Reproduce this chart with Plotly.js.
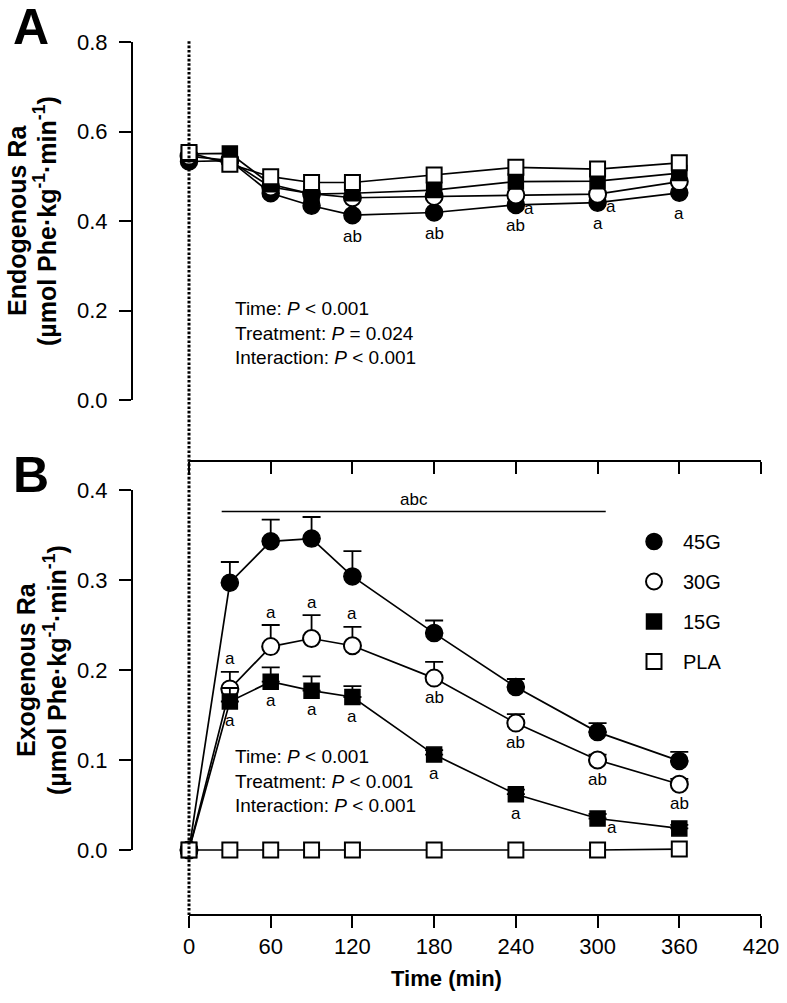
<!DOCTYPE html>
<html>
<head>
<meta charset="utf-8">
<script src="https://cdn.plot.ly/plotly-3.0.1.min.js"></script>
<style>html,body{margin:0;padding:0;background:#fff;}#chart{width:787px;height:1003px;}</style>
</head>
<body>
<div id="chart"></div>
<script>
// ---------- DATA ----------
const time = [0, 30, 60, 90, 120, 180, 240, 300, 360];
const groups = ['45G', '30G', '15G', 'PLA'];

// Panel A: Endogenous Ra
const A_45G = [0.533, 0.535, 0.462, 0.434, 0.413, 0.419, 0.436, 0.441, 0.463];
const A_30G = [0.545, 0.535, 0.476, 0.461, 0.452, 0.455, 0.458, 0.460, 0.488];
const A_15G = [0.550, 0.551, 0.482, 0.460, 0.462, 0.469, 0.488, 0.489, 0.507];
const A_PLA = [0.553, 0.527, 0.499, 0.486, 0.486, 0.503, 0.520, 0.516, 0.530];
const A_sig45_below = ['', '', '', '', 'ab', 'ab', 'ab', 'a', 'a'];
const A_sig45_side  = ['', '', '', '', '', '', 'a', 'a', ''];

// Panel B: Exogenous Ra (mean and upper SEM)
const B_45G     = [0, 0.297, 0.343, 0.346, 0.304, 0.241, 0.181, 0.131, 0.099];
const B_45G_err = [0, 0.023, 0.024, 0.024, 0.028, 0.014, 0.009, 0.010, 0.010];
const B_30G     = [0, 0.179, 0.226, 0.235, 0.227, 0.191, 0.141, 0.100, 0.073];
const B_30G_err = [0, 0.019, 0.024, 0.026, 0.021, 0.018, 0.010, 0.006, 0.006];
const B_15G     = [0, 0.165, 0.187, 0.177, 0.170, 0.106, 0.062, 0.035, 0.024];
const B_15G_err = [0, 0.015, 0.016, 0.016, 0.012, 0.005, 0.005, 0.005, 0.004];
const B_PLA     = [0, 0, 0, 0, 0, 0, 0, 0, 0.001];
const B_sig30_above = ['', 'a', 'a', 'a', 'a', '', '', '', ''];
const B_sig30_below = ['', '', '', '', '', 'ab', 'ab', 'ab', 'ab'];
const B_sig15_below = ['', 'a', 'a', 'a', 'a', 'a', 'a', '', ''];
const B_sig15_side  = ['', '', '', '', '', '', '', 'a', ''];
const B_abc_text = 'abc';
const B_abc_span = [24, 306];
const B_abc_level = 0.376;

const xTicks = [0, 60, 120, 180, 240, 300, 360, 420];
const A_yTicks = [0.0, 0.2, 0.4, 0.6, 0.8];
const B_yTicks = [0.0, 0.1, 0.2, 0.3, 0.4];

const A_stats = ['Time: <i>P</i> &lt; 0.001', 'Treatment: <i>P</i> = 0.024', 'Interaction: <i>P</i> &lt; 0.001'];
const B_stats = ['Time: <i>P</i> &lt; 0.001', 'Treatment: <i>P</i> &lt; 0.001', 'Interaction: <i>P</i> &lt; 0.001'];

// ---------- LAYOUT GEOMETRY ----------
const W = 787, H = 1003;
const L = 132, R = 761, T = 42, B = 915;
const pw = R - L, ph = B - T;
const FONT = 'Liberation Sans, Arial, Helvetica, sans-serif';
const px2x = p => (p - L) / pw;
const px2y = p => (B - p) / ph;
const A_bottom = 461, B_top = 490;
const domA = [px2y(A_bottom), 1];
const domB = [0, px2y(B_top)];
const xPerPx = 420 / (R - 189);
const xRange = [-(189 - L) * xPerPx, 420];
const aPer = 0.8 / (400 - 42);
const yRangeA = [-(A_bottom - 400) * aPer, 0.8];
const bPer = 0.4 / (850 - 490);
const yRangeB = [-(B - 850) * bPer, 0.4];

const markerStyle = {
  '45G': {symbol: 'circle', size: 17, color: '#000', line: {color: '#000', width: 1.5}},
  '30G': {symbol: 'circle', size: 17, color: '#fff', line: {color: '#000', width: 2}},
  '15G': {symbol: 'square', size: 15, color: '#000', line: {color: '#000', width: 1.5}},
  'PLA': {symbol: 'square', size: 15, color: '#fff', line: {color: '#000', width: 2}}
};

const A_vals = {'45G': A_45G, '30G': A_30G, '15G': A_15G, 'PLA': A_PLA};
const B_vals = {'45G': B_45G, '30G': B_30G, '15G': B_15G, 'PLA': B_PLA};
const B_errs = {'45G': B_45G_err, '30G': B_30G_err, '15G': B_15G_err, 'PLA': null};

const traces = [];
groups.forEach(g => {
  traces.push({
    x: time, y: A_vals[g], xaxis: 'x', yaxis: 'y', type: 'scatter', mode: 'lines+markers',
    line: {color: '#000', width: 1.7}, marker: markerStyle[g], showlegend: false, hoverinfo: 'skip'
  });
});
groups.forEach(g => {
  const tr = {
    x: time, y: B_vals[g], xaxis: 'x2', yaxis: 'y2', type: 'scatter', mode: 'lines+markers',
    name: g, line: {color: '#000', width: 1.7}, marker: markerStyle[g], showlegend: false, hoverinfo: 'skip'
  };
  if (B_errs[g]) {
    tr.error_y = {type: 'data', symmetric: false, array: B_errs[g], arrayminus: time.map(() => 0),
      color: '#000', thickness: 1.8, width: 9};
  }
  traces.push(tr);
});
// legend entries (marker only, no data)
groups.forEach(g => {
  traces.push({x: [null], y: [null], xaxis: 'x2', yaxis: 'y2', type: 'scatter', mode: 'markers',
    name: g, legendgroup: g, marker: markerStyle[g], showlegend: true, hoverinfo: 'skip'});
});

// ---------- ANNOTATIONS ----------
const ann = [];
const letterFont = {family: FONT, size: 17, color: '#000'};
function addSig(labels, vals, errs, xa, ya, xs, ys) {
  labels.forEach((s, i) => {
    if (!s) return;
    ann.push({x: time[i], y: vals[i] + (errs ? errs[i] : 0), xref: xa, yref: ya, text: s, showarrow: false,
      font: letterFont, xshift: xs, yshift: ys, xanchor: 'center', yanchor: 'middle'});
  });
}
addSig(A_sig45_below, A_45G, null, 'x', 'y', 0, -21);
addSig(A_sig45_side, A_45G, null, 'x', 'y', 13, -4);
addSig(B_sig30_above, B_30G, B_30G_err, 'x2', 'y2', 0, 13);
addSig(B_sig30_below, B_30G, null, 'x2', 'y2', 0, -19);
addSig(B_sig15_below, B_15G, null, 'x2', 'y2', 0, -19);
addSig(B_sig15_side, B_15G, null, 'x2', 'y2', 14, -9);

ann.push({x: (B_abc_span[0] + B_abc_span[1]) / 2, y: B_abc_level, xref: 'x2', yref: 'y2', text: B_abc_text,
  showarrow: false, font: letterFont, yanchor: 'bottom', yshift: 1});

const statFont = {family: FONT, size: 19, color: '#000'};
ann.push({x: px2x(233), y: px2y(333), xref: 'paper', yref: 'paper', text: A_stats.join('<br>'), align: 'left',
  showarrow: false, font: statFont, xanchor: 'left', yanchor: 'middle'});
ann.push({x: px2x(233), y: px2y(781), xref: 'paper', yref: 'paper', text: B_stats.join('<br>'), align: 'left',
  showarrow: false, font: statFont, xanchor: 'left', yanchor: 'middle'});

// panel letters
ann.push({x: px2x(31), y: px2y(27), xref: 'paper', yref: 'paper', text: '<b>A</b>', showarrow: false,
  font: {family: FONT, size: 50, color: '#000'}, xanchor: 'center', yanchor: 'middle'});
ann.push({x: px2x(31), y: px2y(475), xref: 'paper', yref: 'paper', text: '<b>B</b>', showarrow: false,
  font: {family: FONT, size: 50, color: '#000'}, xanchor: 'center', yanchor: 'middle'});

// y-axis titles (each line placed separately)
const titleFont = {family: FONT, size: 25, color: '#000'};
const unit = '<b>(µmol Phe·kg<sup>-1</sup>·min<sup>-1</sup>)</b>';
function yTitle(line1, cx1, cx2, cy) {
  ann.push({x: px2x(cx1), y: px2y(cy), xref: 'paper', yref: 'paper', text: '<b>' + line1 + '</b>',
    textangle: -90, showarrow: false, font: titleFont, xanchor: 'center', yanchor: 'middle'});
  ann.push({x: px2x(cx2), y: px2y(cy), xref: 'paper', yref: 'paper', text: unit,
    textangle: -90, showarrow: false, font: titleFont, xanchor: 'center', yanchor: 'middle'});
}
yTitle('Endogenous Ra', 17, 45, 221);
yTitle('Exogenous Ra', 26, 55, 670);

// ---------- SHAPES ----------
const ax = {color: '#000', width: 2};
const shapes = [
  {type: 'line', xref: 'paper', yref: 'y', x0: 0, x1: 0, y0: 0, y1: 0.8, line: ax},
  {type: 'line', xref: 'x', yref: 'paper', x0: 0, x1: 420, y0: domA[0], y1: domA[0], line: ax},
  {type: 'line', xref: 'paper', yref: 'y2', x0: 0, x1: 0, y0: 0, y1: 0.4, line: ax},
  {type: 'line', xref: 'x2', yref: 'paper', x0: 0, x1: 420, y0: 0, y1: 0, line: ax},
  {type: 'line', xref: 'x2', yref: 'y2', x0: B_abc_span[0], x1: B_abc_span[1], y0: B_abc_level, y1: B_abc_level,
    line: {color: '#000', width: 1.5}},
  {type: 'line', xref: 'x2', yref: 'paper', x0: 0, x1: 0, y0: 0, y1: px2y(40), layer: 'above',
    line: {color: '#000', width: 3, dash: '2.6px,1.8px'}}
];

const tickFont = {family: FONT, size: 22, color: '#000'};
const baseX = {range: xRange, domain: [0, 1], tickvals: xTicks, ticks: 'outside', ticklen: 12, tickwidth: 2,
  tickcolor: '#000', showgrid: false, zeroline: false, showline: false, tickfont: tickFont, fixedrange: true};
const baseY = {ticks: 'outside', ticklen: 12, tickwidth: 2, tickcolor: '#000', showgrid: false, zeroline: false,
  showline: false, tickfont: tickFont, tickformat: '.1f', fixedrange: true, ticklabelstandoff: 7};

const layout = {
  width: W, height: H,
  margin: {l: L, r: W - R, t: T, b: H - B, pad: 0},
  paper_bgcolor: '#fff', plot_bgcolor: 'rgba(0,0,0,0)',
  font: {family: FONT, color: '#000'},
  showlegend: true,
  xaxis: Object.assign({}, baseX, {anchor: 'y', showticklabels: false}),
  xaxis2: Object.assign({}, baseX, {anchor: 'y2', showticklabels: true,
    title: {text: '<b>Time (min)</b>', font: {family: FONT, size: 22, color: '#000'}, standoff: 12}}),
  yaxis: Object.assign({}, baseY, {domain: domA, range: yRangeA, tickvals: A_yTicks, anchor: 'x'}),
  yaxis2: Object.assign({}, baseY, {domain: domB, range: yRangeB, tickvals: B_yTicks, anchor: 'x2'}),
  legend: {x: px2x(625), y: px2y(522), xanchor: 'left', yanchor: 'top', font: {family: FONT, size: 20, color: '#000'},
    traceorder: 'grouped', tracegroupgap: 11, itemwidth: 48, bgcolor: 'rgba(0,0,0,0)', itemclick: false},
  annotations: ann,
  shapes: shapes
};

Plotly.newPlot('chart', traces, layout, {staticPlot: true, displayModeBar: false});
</script>
</body>
</html>
